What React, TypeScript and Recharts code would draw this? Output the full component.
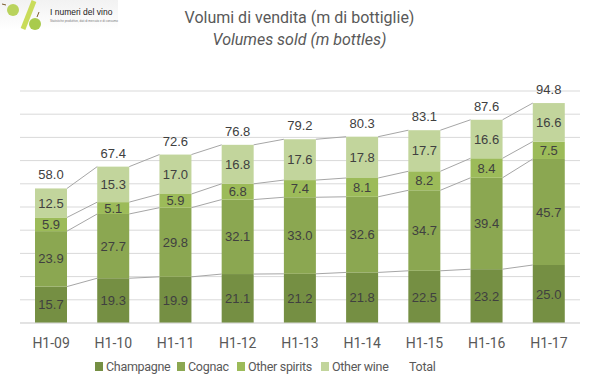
import React from "react";
import { BarChart, Bar, XAxis, YAxis, CartesianGrid, LabelList, Legend } from "recharts";

const periods = ["H1-09", "H1-10", "H1-11", "H1-12", "H1-13", "H1-14", "H1-15", "H1-16", "H1-17"];
const champagne = [15.7, 19.3, 19.9, 21.1, 21.2, 21.8, 22.5, 23.2, 25.0];
const cognac = [23.9, 27.7, 29.8, 32.1, 33.0, 32.6, 34.7, 39.4, 45.7];
const otherSpirits = [5.9, 5.1, 5.9, 6.8, 7.4, 8.1, 8.2, 8.4, 7.5];
const otherWine = [12.5, 15.3, 17.0, 16.8, 17.6, 17.8, 17.7, 16.6, 16.6];
const totals = [58.0, 67.4, 72.6, 76.8, 79.2, 80.3, 83.1, 87.6, 94.8];

const data = periods.map((p, i) => ({
  period: p,
  champagne: champagne[i],
  cognac: cognac[i],
  otherSpirits: otherSpirits[i],
  otherWine: otherWine[i],
  total: totals[i],
}));

const series = [
  { key: "champagne", name: "Champagne", color: "#758f43", w: 82 },
  { key: "cognac", name: "Cognac", color: "#8ba751", w: 60 },
  { key: "otherSpirits", name: "Other spirits", color: "#9cbb59", w: 84 },
  { key: "otherWine", name: "Other wine", color: "#c2d59c", w: 88 },
];

const LABEL_FONT = "'Liberation Sans', Arial, sans-serif";
const TEXT_FONT = "'Roboto', sans-serif";

// remember each bar's top edge so the next bar can draw the series line back to it
const tops: Record<string, Array<{ x: number; y: number; w: number }>> = {};

const makeShape = (key: string, fill: string) => (props: any) => {
  const { x, y, width, height, index } = props;
  if (!tops[key]) tops[key] = [];
  const prev = index > 0 ? tops[key][index - 1] : null;
  tops[key][index] = { x, y, w: width };
  return (
    <g>
      <rect x={x} y={y} width={width} height={height} fill={fill} />
      {prev && (
        <line x1={prev.x + prev.w} y1={prev.y} x2={x} y2={y} stroke="#a6a6a6" strokeWidth={1} />
      )}
    </g>
  );
};

const LegendContent = () => (
  <div
    style={{
      height: 24,
      display: "flex",
      alignItems: "center",
      fontFamily: TEXT_FONT,
      fontSize: 12.5,
      letterSpacing: -0.3,
      color: "#595959",
      paddingLeft: 75,
    }}
  >
    {series.map((s) => (
      <span key={s.key} style={{ display: "flex", alignItems: "center", width: s.w, whiteSpace: "nowrap" }}>
        <span style={{ width: 8, height: 9, background: s.color, marginRight: 3 }} />
        {s.name}
      </span>
    ))}
    <span style={{ marginLeft: 0 }}>Total</span>
  </div>
);

const Logo = () => (
  <svg width={120} height={32} style={{ position: "absolute", left: 0, top: 0 }}>
    <defs>
      <linearGradient id="logoBg" x1="0" y1="0" x2="0" y2="1">
        <stop offset="0%" stopColor="#f2f2f2" />
        <stop offset="100%" stopColor="#ffffff" />
      </linearGradient>
    </defs>
    <rect x={0} y={0} width={118} height={30} fill="url(#logoBg)" />
    <line x1={34} y1={1} x2={23} y2={29} stroke="#c9dc5a" strokeWidth={5} />
    <circle cx={13} cy={10} r={6} fill="#b9d35d" />
    <circle cx={35} cy={24} r={6} fill="#a9cb4d" />
    <line x1={6} y1={5} x2={2} y2={4} stroke="#7a5a2a" strokeWidth={1} />
    <line x1={37} y1={17} x2={39} y2={12} stroke="#7a5a2a" strokeWidth={1} />
    <text x={50} y={15} fontFamily={LABEL_FONT} fontSize={8.5} fill="#222">
      I numeri del vino
    </text>
    <text x={50} y={22} fontFamily={LABEL_FONT} fontSize={3} fill="#777">
      Statistiche produttive, dati di mercato e di consumo
    </text>
  </svg>
);

export default function App() {
  return (
    <div style={{ position: "absolute", left: 0, top: 0, width: 599, height: 378, background: "#fff" }}>
      <Logo />
      <div
        style={{
          position: "absolute",
          top: 7,
          left: 0,
          width: 599,
          textAlign: "center",
          fontFamily: TEXT_FONT,
          fontSize: 16,
          color: "#595959",
          lineHeight: "22px",
        }}
      >
        <div>Volumi di vendita (m di bottiglie)</div>
        <div style={{ fontStyle: "italic" }}>Volumes sold (m bottles)</div>
      </div>
      <BarChart
        width={599}
        height={378}
        data={data}
        margin={{ top: 91, right: 19, left: 20, bottom: 0 }}
        barSize={32}
      >
        <CartesianGrid vertical={false} stroke="#d9d9d9" />
        <XAxis
          dataKey="period"
          axisLine={{ stroke: "#d9d9d9" }}
          tickLine={false}
          height={31}
          tick={{ fill: "#595959", fontSize: 14, fontFamily: TEXT_FONT, dy: 7 }}
        />
        <YAxis hide domain={[0, 100]} ticks={[0, 10, 20, 30, 40, 50, 60, 70, 80, 90, 100]} />
        <Legend verticalAlign="bottom" height={24} content={<LegendContent />} />
        {series.map((s, i) => (
          <Bar
            key={s.key}
            dataKey={s.key}
            name={s.name}
            stackId="a"
            fill={s.color}
            isAnimationActive={false}
            shape={makeShape(s.key, s.color)}
          >
            <LabelList
              dataKey={s.key}
              position="center"
              fill="#404040"
              fontSize={13}
              fontFamily={LABEL_FONT}
              formatter={(v: any) => Number(v).toFixed(1)}
            />
            {i === series.length - 1 && (
              <LabelList
                dataKey="total"
                position="top"
                offset={9}
                fill="#404040"
                fontSize={13}
                fontFamily={LABEL_FONT}
                formatter={(v: any) => Number(v).toFixed(1)}
              />
            )}
          </Bar>
        ))}
      </BarChart>
    </div>
  );
}
